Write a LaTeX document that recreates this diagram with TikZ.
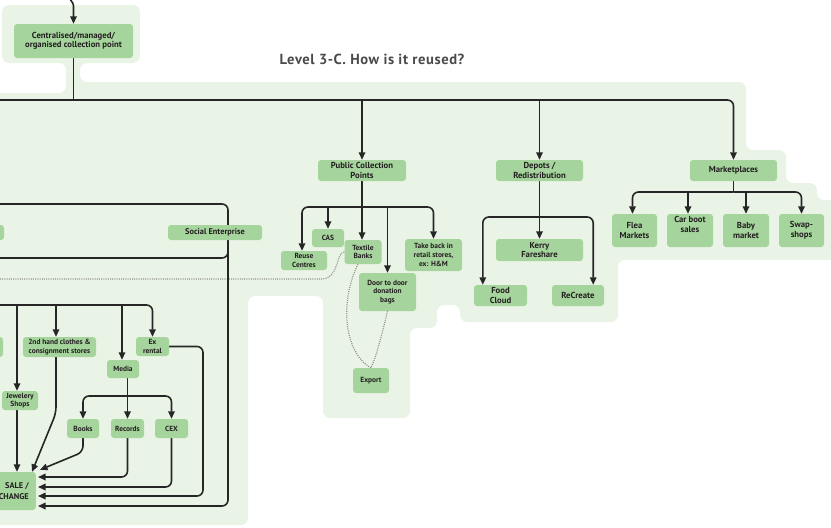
\documentclass[tikz,border=0pt]{standalone}
\usepackage{fontspec}
\setmainfont{PT Sans}
\usetikzlibrary{arrows.meta,calc}
\definecolor{bggreen}{HTML}{EAF4E6}
\definecolor{nodegreen}{HTML}{A6D49D}
\definecolor{ink}{HTML}{231F20}
\definecolor{linec}{HTML}{262626}
\definecolor{dotc}{HTML}{8E8E8E}
\definecolor{titlec}{HTML}{4A4A4A}
\pgfdeclarelayer{bglayer}
\pgfdeclarelayer{linelayer}
\pgfsetlayers{bglayer,linelayer,main}
\begin{document}
\begin{tikzpicture}[x=1pt,y=-1pt,
 box/.style={fill=nodegreen, rounded corners=3pt, inner sep=0pt, align=center, text=ink, font=\bfseries\fontsize{8.7}{9.6}\selectfont},
 sbox/.style={box, font=\bfseries\fontsize{7.4}{8.6}\selectfont},
 conn/.style={draw=linec, line width=1.6pt, rounded corners=6pt},
 arr/.style={conn, -{Triangle[length=7.5pt,width=6.5pt]}},
 dots/.style={draw=dotc, line width=1.2pt, dash pattern=on 1pt off 1.2pt},
]
\useasboundingbox (0,0) rectangle (831,528);

% title
\node[font=\bfseries\fontsize{14.6}{16}\selectfont\addfontfeatures{LetterSpace=4}, text=titlec] (title) at (372,59) {Level 3-C. How is it reused?};

% nodes
\node[box, minimum width=119pt, minimum height=34pt] (cent) at (73.5,41) {Centralised/managed/\\organised collection point};
\node[box, minimum width=88pt, minimum height=21pt] (pcp) at (362,170.5) {Public Collection\\Points};
\node[box, minimum width=87pt, minimum height=21pt] (dep) at (539.5,170.5) {Depots /\\Redistribution};
\node[box, minimum width=87pt, minimum height=21pt] (mkt) at (733.5,170.5) {Marketplaces};
\node[box, minimum width=45pt, minimum height=33pt] (flea) at (634.5,230.5) {Flea\\Markets};
\node[box, minimum width=46pt, minimum height=33pt] (carboot) at (690,230.5) {Car boot\\sales\\[3pt]};
\node[box, minimum width=46pt, minimum height=33pt] (baby) at (746,230.5) {Baby\\market};
\node[box, minimum width=45pt, minimum height=33pt] (swap) at (801.5,230.5) {Swap-\\shops};
\node[box, minimum width=87pt, minimum height=22pt] (kerry) at (539.5,250) {Kerry\\Fareshare};
\node[box, minimum width=53pt, minimum height=21pt] (food) at (500.5,295.5) {Food\\Cloud};
\node[box, minimum width=52pt, minimum height=21pt] (recreate) at (578,295.5) {ReCreate};
\node[sbox, minimum width=46pt, minimum height=19pt] (reuse) at (304,260.5) {Reuse\\Centres};
\node[sbox, minimum width=32pt, minimum height=18pt] (cas) at (328,238) {CAS};
\node[sbox, minimum width=37pt, minimum height=24pt] (textile) at (363,252) {Textile\\Banks};
\node[sbox, minimum width=57pt, minimum height=38pt] (door) at (387.5,292) {Door to door\\donation\\bags};
\node[sbox, minimum width=57pt, minimum height=32pt] (takeback) at (433.5,255) {Take back in\\retail stores,\\ex: H\&M};
\node[sbox, minimum width=36pt, minimum height=25pt] (export) at (371,380.5) {Export};
\node[box, font=\bfseries\fontsize{8.3}{9}\selectfont, minimum width=94pt, minimum height=15pt] (social) at (215,232.5) {Social Enterprise};
\node[sbox, minimum width=33pt, minimum height=19pt] (exr) at (152.5,346.5) {Ex\\rental};
\node[sbox, minimum width=73pt, minimum height=20pt] (second) at (59.5,347) {2nd hand clothes \&\\consignment stores};
\node[sbox, minimum width=32pt, minimum height=18pt] (media) at (123,369) {Media};
\node[sbox, minimum width=32pt, minimum height=19pt] (books) at (83,428.5) {Books};
\node[sbox, minimum width=33pt, minimum height=19pt] (records) at (127.5,428.5) {Records};
\node[sbox, minimum width=33pt, minimum height=19pt] (cex) at (171.5,428.5) {CEX};
\node[sbox, minimum width=36pt, minimum height=19pt] (jew) at (20,400.5) {Jewelery\\Shops};
\node[box, font=\bfseries\fontsize{8.3}{10.5}\selectfont, align=right, inner xsep=2pt, anchor=east, minimum width=44pt, minimum height=38pt] (sale) at (36,491) {SALE /\\CHANGE};

% cut-off node slivers at the left edge
\fill[nodegreen, rounded corners=3pt] (-20,225) rectangle (4,240);
\fill[nodegreen, rounded corners=3pt] (-20,337) rectangle (3,357);

\begin{pgfonlayer}{bglayer}
\fill[bggreen, rounded corners=7pt] (2,63) -- (2,5) -- (140,5) -- (140,63) -- (80,63) -- (80,82) -- (746,82) -- (746,150) -- (786,150) -- (786,183) -- (817,183) -- (817,200) -- (845,200) -- (845,260) -- (618,260) -- (618,322) -- (460,322) -- (460,305) -- (437,305) -- (437,328) -- (410,328) -- (410,418) -- (323,418) -- (323,296) -- (248,296) -- (248,525) -- (-10,525) -- (-10,93) -- (66,93) -- (66,63) -- cycle;
\end{pgfonlayer}

\begin{pgfonlayer}{linelayer}
% top
\coordinate (topin) at (67,-3);
\draw[arr] (topin) .. controls (73.5,1) and (73.5,6) .. (73.5,12) -- (cent.north);
\coordinate (trunkL) at (-5,100);
\draw[conn] (cent.south) -- (cent.south |- trunkL);
\draw[arr] (trunkL) -| (mkt.north);
\draw[arr] (pcp.north |- trunkL) -- (pcp.north);
\draw[arr] (dep.north |- trunkL) -- (dep.north);

% marketplaces
\coordinate (mb) at (733.5,192);
\draw[conn] (mkt.south) -- (mb);
\draw[arr] (mb) -| ($(flea.north)+(-2,0)$);
\draw[arr] (mb) -| (swap.north);
\draw[arr] ($(carboot.north |- mb)+(-2,0)$) -- ($(carboot.north)+(-2,0)$);
\draw[arr] (baby.north |- mb) -- (baby.north);

% depots
\draw[arr] (dep.south) -- (kerry.north);
\coordinate (db) at (539.5,217);
\draw[arr] (db) -| ($(food.north west)+(9,0)$);
\draw[arr] (db) -| ($(recreate.north east)+(-11,0)$);

% public collection points
\coordinate (pb) at (362,207);
\draw[conn] (pcp.south) -- (pb);
\draw[arr] (pb) -| ($(reuse.north)+(-2,0)$);
\draw[arr] (pb) -| (takeback.north);
\draw[arr] (cas.north |- pb) -- (cas.north);
\draw[arr] (pb) -- (pb |- textile.north);
\draw[arr] (door.north |- pb) -- (door.north);

% dotted
\coordinate (dotL) at (-5,279);
\draw[dots] (textile.west) .. controls (336,252) and (339,279) .. (322,279) -- (dotL);
\draw[dots] ($(textile.south)+(-5,0)$) .. controls (340,300) and (343,352) .. (export.north);
\draw[dots] (door.south) .. controls (383,330) and (377,355) .. (export.north);

% social enterprise bracket
\coordinate (sbL) at (-5,204);
\coordinate (sbR) at (-5,258);
\draw[conn] (sbL) -- (228,204) -- (228,258) -- (sbR);
\draw[arr] (228,245) -- (228,506) -- ($(sale.east)+(2,15)$);

% bus at y=305
\coordinate (busL) at (-5,305);
\coordinate (b1) at (17,305);
\coordinate (b2) at (56,305);
\coordinate (b3) at (122,305);
\draw[arr] (busL) -| (exr.north);
\draw[arr] (b1) -- (b1 |- jew.north);
\draw[arr] (b2) -- (b2 |- second.north);
\draw[arr] (b3) -- (b3 |- media.north);

% media
\coordinate (mbr) at (127.5,396);
\draw[conn] ($(media.south)+(4.5,0)$) -- (mbr);
\draw[arr] (mbr) -- (records.north);
\draw[arr] (mbr) -| (books.north);
\draw[arr] (mbr) -| (cex.north);

% into point of sale
\draw[arr] (b1 |- jew.south) -- (b1 |- sale.north);
\draw[arr] ($(second.south)+(-3.5,0)$) -- (56,413) -- ($(sale.north east)+(-4,0)$);
\draw[arr] (books.south) -- (83,452) -- ($(sale.north east)+(4,-2)$);
\draw[arr] (records.south) -- (127.5,477) -- ($(sale.east)+(2,-14)$);
\draw[arr] (cex.south) -- (171.5,487) -- ($(sale.east)+(2,-4)$);
\draw[arr] (exr.east) -- (203,346.5) -- (203,496) -- ($(sale.east)+(2,5)$);
\end{pgfonlayer}
\end{tikzpicture}
\end{document}
